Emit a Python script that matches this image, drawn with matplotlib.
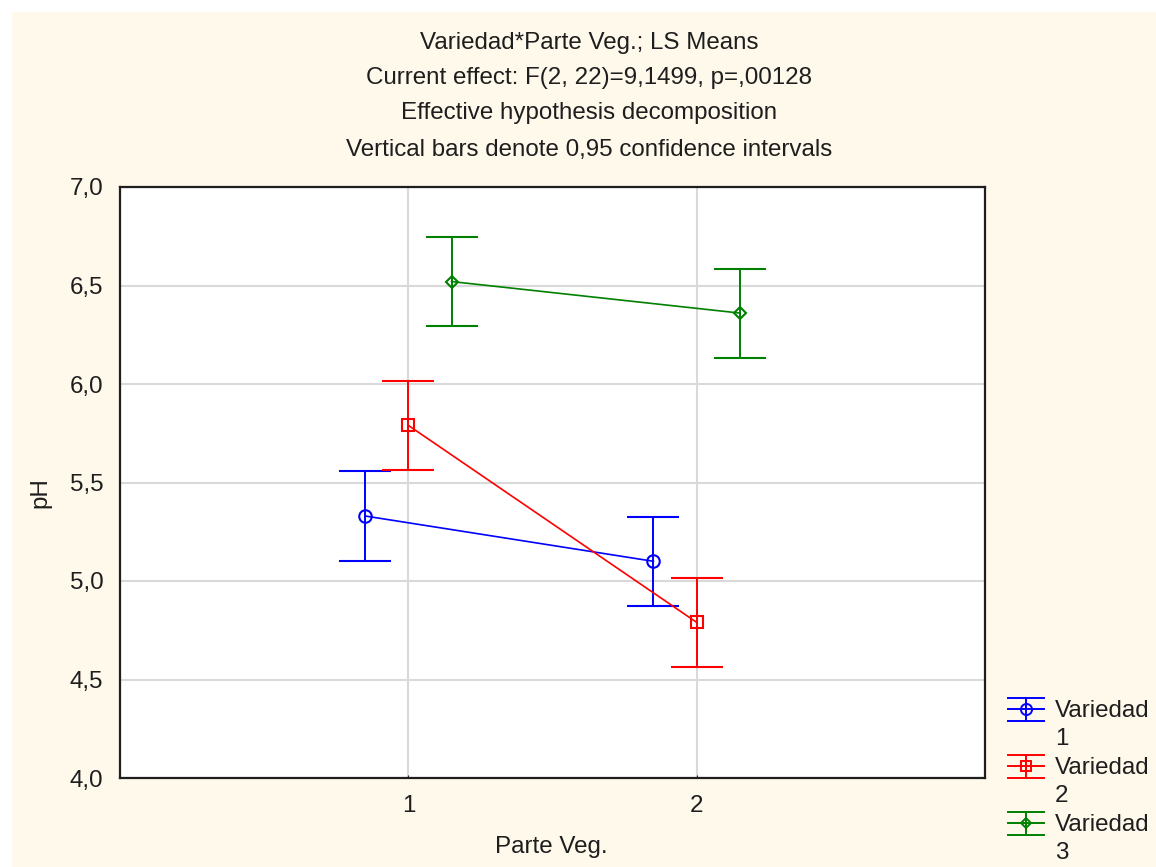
import numpy as np
import matplotlib.pyplot as plt
from matplotlib.patches import Rectangle
from matplotlib.lines import Line2D

plt.rcParams['font.family'] = ['Liberation Sans', 'DejaVu Sans']

# data (LS means and 0,95 CI half-widths)
parte_veg = [1, 2]
variedades = ["Variedad", "Variedad", "Variedad"]
var_ids = ["1", "2", "3"]
v1_mean = [5.33, 5.10]
v1_ci = [0.227, 0.226]
v2_mean = [5.79, 4.79]
v2_ci = [0.225, 0.225]
v3_mean = [6.52, 6.36]
v3_ci = [0.227, 0.226]
offsets = [-0.15, 0.0, 0.15]
colors = ["#0000FF", "#FF0000", "#008000"]
markers = ["o", "s", "D"]
msizes = [9, 8, 6.5]

title_lines = ["Variedad*Parte Veg.; LS Means",
               "Current effect: F(2, 22)=9,1499, p=,00128",
               "Effective hypothesis decomposition",
               "Vertical bars denote 0,95 confidence intervals"]

W, H = 1156, 867
FS = 17.4
TXT = "#1E1E1E"


def fx(px):
    return px / W


def fy(py):
    return 1 - py / H


fig = plt.figure(figsize=(11.56, 8.67), dpi=100, facecolor="white")
# cream panel (small white border top/left like the screenshot)
fig.patches.append(Rectangle((fx(12), 0), 1, fy(12), transform=fig.transFigure,
                             facecolor="#FFF9EC", edgecolor="none", zorder=-10))

ax = fig.add_axes([fx(120), fy(778), (985 - 120) / W, (778 - 187) / H])
ax.set_facecolor("white")

means = [v1_mean, v2_mean, v3_mean]
cis = [v1_ci, v2_ci, v3_ci]
for i in range(3):
    x = np.array(parte_veg) + offsets[i]
    ax.errorbar(x, means[i], yerr=cis[i], color=colors[i], marker=markers[i],
                markersize=msizes[i], markerfacecolor="none", markeredgewidth=1.5,
                linewidth=1.2, elinewidth=1.4, capsize=19, capthick=1.4, zorder=3)

ax.set_xlim(0, 3)
ax.set_ylim(4.0, 7.0)
ax.set_xticks(parte_veg)
yt = np.arange(4.0, 7.01, 0.5)
ax.set_yticks(yt)
ax.set_yticklabels([f"{v:.1f}".replace(".", ",") for v in yt])
ax.grid(True, color="#D9D9D9", linewidth=1.5, zorder=0)
ax.set_axisbelow(True)
ax.tick_params(axis="both", direction="in", length=2, labelsize=FS, colors=TXT)
ax.tick_params(axis="y", pad=12, length=0)
ax.tick_params(axis="x", pad=12)
for s in ax.spines.values():
    s.set_color(TXT)
    s.set_linewidth(1.6)

fig.text(fx(551), fy(847), "Parte Veg.", fontsize=FS, ha="center", va="center", color=TXT)
fig.text(fx(40), fy(493), "pH", fontsize=FS, ha="center", va="center", rotation=90, color=TXT)

title_y = [43, 78, 113, 150]
for line, yy in zip(title_lines, title_y):
    fig.text(fx(589), fy(yy), line, fontsize=FS, ha="center", va="center", color=TXT)

# legend drawn by hand: caps spanning the handle, centre line, bar and marker
leg_y = [709, 766, 823]
x0, x1, xc = 1008, 1044, 1026
for i in range(3):
    yc = leg_y[i]
    for yy in (yc - 11.5, yc, yc + 11.5):
        fig.add_artist(Line2D([fx(x0), fx(x1)], [fy(yy), fy(yy)], color=colors[i], lw=1.4))
    fig.add_artist(Line2D([fx(xc), fx(xc)], [fy(yc - 11.5), fy(yc + 11.5)], color=colors[i], lw=1.4))
    fig.add_artist(Line2D([fx(xc)], [fy(yc)], color=colors[i], marker=markers[i],
                          markersize=msizes[i] - 1, markerfacecolor="none", markeredgewidth=1.4))
    fig.text(fx(1055), fy(yc + 2), variedades[i], fontsize=FS, ha="left", va="center", color=TXT)
    fig.text(fx(1055), fy(yc + 30), var_ids[i], fontsize=FS, ha="left", va="center", color=TXT)

fig.savefig("out.png", dpi=100, facecolor=fig.get_facecolor())
